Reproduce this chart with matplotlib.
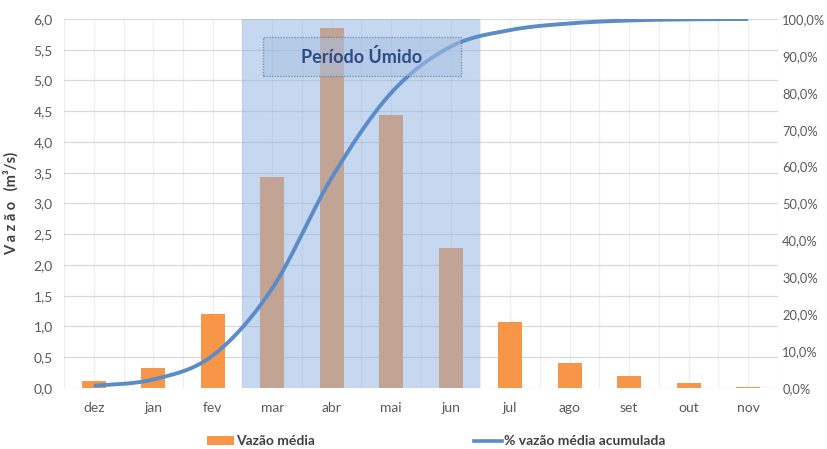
import matplotlib
matplotlib.use("Agg")
import matplotlib.pyplot as plt
import numpy as np
from matplotlib.patches import Rectangle, Patch
from matplotlib.lines import Line2D
from matplotlib.ticker import FuncFormatter, MultipleLocator

plt.rcParams['font.family'] = ['Lato', 'DejaVu Sans']

months = ['dez', 'jan', 'fev', 'mar', 'abr', 'mai', 'jun', 'jul', 'ago', 'set', 'out', 'nov']
vazao_media = [0.12, 0.33, 1.21, 3.43, 5.85, 4.44, 2.28, 1.08, 0.40, 0.19, 0.08, 0.02]
vazao_acumulada_pct = [0.6, 2.3, 8.8, 27.0, 57.0, 80.0, 92.5, 97.0, 98.8, 99.6, 99.9, 100.0]
wet_start, wet_end = 'mar', 'jun'
wet_label = 'Período Úmido'

ORANGE = '#f79646'
LINE_BLUE = '#5b8bc9'
GRID = '#d9d9d9'
TICK = '#595959'

fig = plt.figure(figsize=(8.27, 4.49), dpi=100)
ax = fig.add_axes([0.0774, 0.1359, 0.8633, 0.8218])
x = np.arange(len(months))

ax.bar(x, vazao_media, width=0.4, color=ORANGE, zorder=2)
ax.set_xlim(-0.5, len(months) - 0.5)
ax.set_ylim(0, 6)
ax.yaxis.set_major_locator(MultipleLocator(0.5))
ax.yaxis.set_major_formatter(FuncFormatter(lambda v, p: f"{v:.1f}".replace('.', ',')))
ax.set_xticks(x)
ax.set_xticklabels(months)
ax.set_xticks(np.arange(-0.5, len(months), 1.0), minor=True)
ax.grid(True, axis='y', color=GRID, lw=0.9, zorder=0)
ax.grid(True, axis='x', which='both', color='#eeeeee', lw=0.9, zorder=0)
ax.set_axisbelow(True)
for s in ax.spines.values():
    s.set_visible(False)
ax.tick_params(axis='both', which='both', length=0, colors=TICK, labelsize=10)
ax.tick_params(axis='y', pad=8)
ax.tick_params(axis='x', pad=10)
ax.set_ylabel('V a z ã o   (m³/s)', fontsize=10.5, fontweight='bold', color='#404040', labelpad=11)

# wet period shading
i0 = months.index(wet_start)
i1 = months.index(wet_end)
ax.add_patch(Rectangle((i0 - 0.5, 0), i1 - i0 + 1, 6, facecolor='#8db3e2', alpha=0.5,
                       edgecolor='none', zorder=3))

ax2 = ax.twinx()
ax2.set_ylim(0, 100)
ax2.yaxis.set_major_locator(MultipleLocator(10))
ax2.yaxis.set_major_formatter(FuncFormatter(lambda v, p: f"{v:.1f}%".replace('.', ',')))
for s in ax2.spines.values():
    s.set_visible(False)
ax2.tick_params(axis='y', length=0, colors=TICK, labelsize=9.3, pad=3)

# Excel-style smoothed line (Bezier through data points)
px = np.array(x, dtype=float)
py = np.array(vazao_acumulada_pct, dtype=float)
xs, ys = [], []
n = len(px)
t = np.linspace(0, 1, 30)
for i in range(n - 1):
    p0 = np.array([px[max(i - 1, 0)], py[max(i - 1, 0)]])
    p1 = np.array([px[i], py[i]])
    p2 = np.array([px[i + 1], py[i + 1]])
    p3 = np.array([px[min(i + 2, n - 1)], py[min(i + 2, n - 1)]])
    c1 = p1 + (p2 - p0) / 6.0
    c2 = p2 - (p3 - p1) / 6.0
    b = ((1 - t)[:, None] ** 3 * p1 + 3 * ((1 - t) ** 2 * t)[:, None] * c1
         + 3 * ((1 - t) * t ** 2)[:, None] * c2 + (t ** 3)[:, None] * p2)
    xs.extend(b[:, 0]); ys.extend(b[:, 1])
ax2.plot(xs, ys, color=LINE_BLUE, lw=2.8, solid_capstyle='butt', zorder=4)

# text box
ax2.add_patch(Rectangle((2.84, 5.07 / 6 * 100), 3.33, 0.63 / 6 * 100, facecolor='#a9c1e3',
                        alpha=0.55, edgecolor='#4a5f86', lw=1.0, linestyle=(0, (1, 1)), zorder=5))
ax2.text((2.84 + 6.17) / 2, (5.385 / 6) * 100, wet_label, ha='center', va='center',
         fontsize=13, fontweight='bold', color='#2f4a86', zorder=6)

handles = [Patch(facecolor=ORANGE, edgecolor='none'), Line2D([0], [0], color=LINE_BLUE, lw=2.6)]
fig.legend(handles, ['Vazão média', '% vazão média acumulada'], loc='center',
           bbox_to_anchor=(0.527, 0.017), ncol=2, frameon=False, columnspacing=11.5,
           handlelength=2.0, handletextpad=0.1, prop={'weight': 'bold', 'size': 10},
           labelcolor='#404040')

fig.savefig('out.png', dpi=100)
